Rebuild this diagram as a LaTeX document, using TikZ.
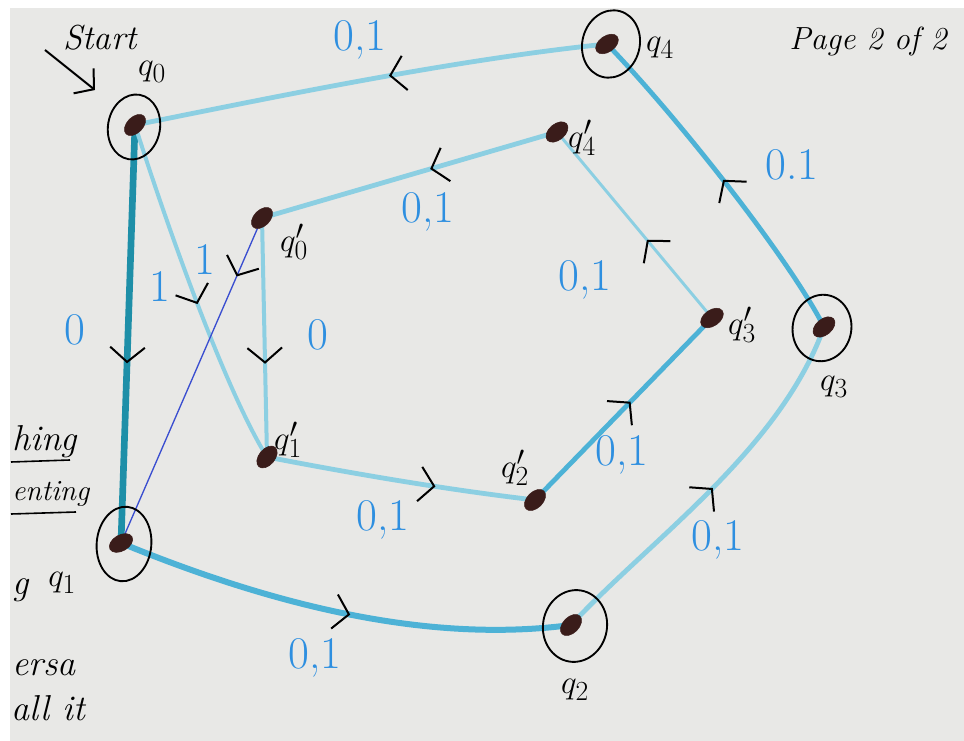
\documentclass[tikz,border=0pt]{standalone}
\usetikzlibrary{arrows.meta,decorations.markings,shapes.geometric}
\definecolor{paper}{HTML}{E8E8E6}
\definecolor{lightteal}{HTML}{8CCFE2}
\definecolor{midteal}{HTML}{4DB2D6}
\definecolor{darkteal}{HTML}{1E8FA8}
\definecolor{inkblue}{HTML}{3A4ED0}
\definecolor{labelblue}{HTML}{2E8FE0}
\definecolor{dotbrown}{HTML}{3A1C1A}
\tikzset{
  edgelight/.style={draw=lightteal, line width=3.6pt, line cap=round},
  edgemid/.style={draw=midteal, line width=3.6pt, line cap=round},
  edgethin/.style={draw=lightteal, line width=2.2pt, line cap=round},
  midarrow/.style={postaction={decorate,decoration={markings,
      mark=at position #1 with {\arrow{Straight Barb[length=11pt,width=26pt,line width=1.5pt,color=black]}}}}},
  dot/.style={ellipse, fill=dotbrown, draw=dotbrown, inner sep=0pt,
      minimum width=12pt, minimum height=19pt, rotate=-25},
  ring/.style={ellipse, draw=black, line width=1.4pt, inner sep=0pt},
  lbl/.style={text=labelblue, font=\fontsize{34}{36}\selectfont, inner sep=0pt},
  qname/.style={text=black, font=\fontsize{32}{34}\selectfont, inner sep=0pt},
  margin/.style={text=black, font=\itshape\fontsize{27}{29}\selectfont, inner sep=0pt, anchor=west}
}
\begin{document}
\begin{tikzpicture}[x=0.75pt,y=-0.75pt]
\useasboundingbox (0,0) rectangle (964,741);
\fill[white] (0,0) rectangle (964,741);
\fill[paper] (10,8) rectangle (964,741);

% state positions
\coordinate (q0) at (135,125);
\coordinate (q1) at (121,543);
\coordinate (q2) at (571,625);
\coordinate (q3) at (824,327);
\coordinate (q4) at (607,44);
\coordinate (p0) at (262,218);
\coordinate (p1) at (267,457);
\coordinate (p2) at (535,500);
\coordinate (p3) at (712,318);
\coordinate (p4) at (557,132);

% transitions
\draw[draw=darkteal, line width=5pt, line cap=round, midarrow=0.57] (q0) -- (q1);
\draw[edgelight, line width=3pt, midarrow=0.53] (q0) .. controls (165,220) and (225,390) .. (p1);
\draw[draw=inkblue, line width=1pt, midarrow=0.18] (p0) -- (q1);
\draw[edgelight, line width=3pt, midarrow=0.61] (p0) -- (p1);
\draw[edgelight, midarrow=0.63] (p1) .. controls (360,475) and (450,490) .. (p2);
\draw[edgemid, midarrow=0.54] (p2) -- (p3);
\draw[edgethin, midarrow=0.42] (p3) -- (p4);
\draw[edgelight, midarrow=0.43] (p4) -- (p0);
\draw[draw=midteal, line width=4.5pt, line cap=round, midarrow=0.52] (q1) .. controls (260,600) and (420,645) .. (q2);
\draw[edgelight, midarrow=0.5] (q2) .. controls (650,540) and (780,450) .. (q3);
\draw[edgemid, midarrow=0.5] (q3) .. controls (790,260) and (680,120) .. (q4);
\draw[edgelight, midarrow=0.46] (q4) .. controls (450,60) and (260,100) .. (q0);

% start marker
\node[font=\itshape\fontsize{26}{28}\selectfont, inner sep=0pt] (starttxt) at (100,38) {Start};
\coordinate (startfrom) at (45,50);
\coordinate (startto) at (95,90);
\draw[black, line width=1.5pt, -{Straight Barb[length=10pt,width=24pt]}] (startfrom) -- (startto);

% states
\foreach \s/\r in {q0/-20,q1/-35,q2/-20,q3/-25,q4/-30,p0/-20,p1/-15,p2/-20,p3/-30,p4/-25}
  \node[dot, rotate=\r] (\s dot) at (\s) {};
\node[ring, minimum width=39pt, minimum height=49pt, rotate=-10] (q0ring) at (134,127) {};
\node[ring, minimum width=41pt, minimum height=56pt, rotate=-5] (q1ring) at (124,544) {};
\node[ring, minimum width=48pt, minimum height=54pt, rotate=-10] (q2ring) at (575,626) {};
\node[ring, minimum width=44pt, minimum height=50pt, rotate=-10] (q3ring) at (822,328) {};
\node[ring, minimum width=43pt, minimum height=51pt, rotate=-15] (q4ring) at (611,44) {};

% state names
\node[qname] (q0name) at (152,72) {$q_0$};
\node[qname] (q2name) at (575,690) {$q_2$};
\node[qname] (q3name) at (834,387) {$q_3$};
\node[qname] (q4name) at (660,48) {$q_4$};
\node[qname] (p0name) at (294,242) {$q_0'$};
\node[qname] (p1name) at (288,440) {$q_1'$};
\node[qname] (p2name) at (515,468) {$q_2'$};
\node[qname] (p3name) at (742,325) {$q_3'$};
\node[qname] (p4name) at (582,138) {$q_4'$};

% transition labels
\node[lbl] (l01) at (75,330) {0};
\node[lbl] (l02) at (160,287) {1};
\node[lbl] (l03) at (205,260) {1};
\node[lbl] (l04) at (318,335) {0};
\node[lbl] (l05) at (383,520) {0,1};
\node[lbl] (l06) at (622,455) {0,1};
\node[lbl] (l07) at (585,280) {0,1};
\node[lbl] (l08) at (428,212) {0,1};
\node[lbl] (l09) at (315,658) {0,1};
\node[lbl] (l10) at (718,540) {0,1};
\node[lbl] (l11) at (792,165) {0.1};
\node[lbl] (l12) at (360,40) {0,1};

% page note
\node[font=\itshape\fontsize{24}{26}\selectfont, inner sep=0pt] (page) at (868,42) {Page 2 of 2};

% notes at the left edge
\node[margin] (m1) at (12,442) {hing};
\draw[line width=1.2pt] (11,462) -- (70,460);
\node[margin, font=\itshape\fontsize{22}{24}\selectfont] (m2) at (12,494) {enting};
\draw[line width=1.2pt] (11,514) -- (76,512);
\node[margin] (m3) at (12,590) {g};
\node[margin, font=\fontsize{32}{34}\selectfont] (m4) at (48,583) {$q_1$};
\node[margin] (m5) at (12,668) {ersa};
\node[margin] (m6) at (11,708) {all it};
\end{tikzpicture}
\end{document}
